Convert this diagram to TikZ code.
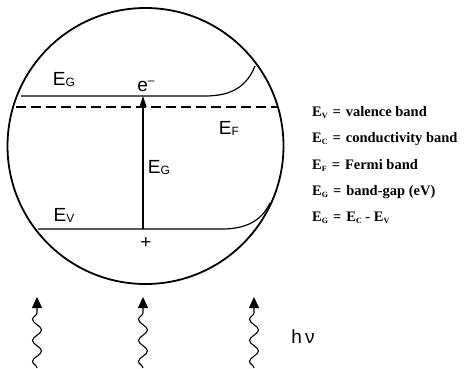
\documentclass[tikz,border=0pt]{standalone}
\usepackage{fontspec}
\setmainfont{Liberation Serif}
\newfontfamily\labfont{Liberation Sans}
\usetikzlibrary{decorations.pathmorphing,arrows.meta}
\newcommand\lsub[1]{\raisebox{-1pt}{\fontsize{12pt}{12pt}\selectfont #1}}
\newcommand\tsub[1]{\raisebox{-2pt}{\fontsize{8pt}{8pt}\selectfont #1}}
\newcommand\eqs{\hspace{5pt}=\hspace{5pt}}
\begin{document}
\begin{tikzpicture}[x=1pt,y=-1pt,
  band/.style={line width=1.2pt},
  lab/.style={font=\labfont\fontsize{19pt}{19pt}\selectfont, inner sep=0pt},
  legend/.style={font=\bfseries\fontsize{14.5pt}{14.5pt}\selectfont, anchor=west, inner sep=0pt},
  tip/.style={-{Triangle[length=11pt,width=7pt]}},
  bigtip/.style={-{Triangle[length=11pt,width=10pt]}},
  photon/.style={line width=1.1pt, decorate, decoration={snake, amplitude=4.5pt, segment length=21pt, post length=12pt}, bigtip}]
\useasboundingbox (0,0) rectangle (464,368);
% cell
\node[circle, draw, line width=1.8pt, minimum size=276pt, inner sep=0pt] (cell) at (145.5,146) {};
% conduction band
\coordinate (cl) at (21,96);
\coordinate (cm) at (143,96);
\coordinate (cr) at (205,96);
\coordinate (ce) at (255,66);
\draw[band] (cl) -- (cr) .. controls (232,96) and (247,86) .. (ce);
% valence band
\coordinate (vl) at (38,229);
\coordinate (vm) at (143,229);
\coordinate (vr) at (222,229);
\coordinate (ve) at (270,203);
\draw[band] (vl) -- (vr) .. controls (247,229) and (262,220) .. (ve);
% Fermi level
\coordinate (fl) at (16,107);
\coordinate (fr) at (277,107);
\draw[band, dash pattern=on 10pt off 5pt] (fl) -- (fr);
% excitation arrow
\draw[band, tip] (vm) -- (cm);
% labels
\node[lab] (egc) at (64,80) {E\lsub{G}};
\node[lab] (elec) at (146,86) {e\raisebox{7pt}{\fontsize{12pt}{12pt}\selectfont –}};
\node[lab] (ef) at (229,128) {E\lsub{F}};
\node[lab] (egm) at (159,168) {E\lsub{G}};
\node[lab] (ev) at (64,215) {E\lsub{V}};
\node[lab] (hole) at (146,243) {+};
% photons
\coordinate (w1b) at (37,368); \coordinate (w1t) at (37,297);
\coordinate (w2b) at (143,368); \coordinate (w2t) at (143,297);
\coordinate (w3b) at (254,368); \coordinate (w3t) at (254,297);
\draw[photon] (w1b) -- (w1t);
\draw[photon] (w2b) -- (w2t);
\draw[photon] (w3b) -- (w3t);
\node[lab] (hnu) at (303,337) {h\,ν};
% legend
\node[legend] (l1) at (312,113) {E\tsub{V}\eqs valence band};
\node[legend] (l2) at (312,139) {E\tsub{C}\eqs conductivity band};
\node[legend] (l3) at (312,165) {E\tsub{F}\eqs Fermi band};
\node[legend] (l4) at (312,192) {E\tsub{G}\eqs band-gap (eV)};
\node[legend] (l5) at (312,218) {E\tsub{G}\eqs E\tsub{C} - E\tsub{V}};
\end{tikzpicture}
\end{document}
